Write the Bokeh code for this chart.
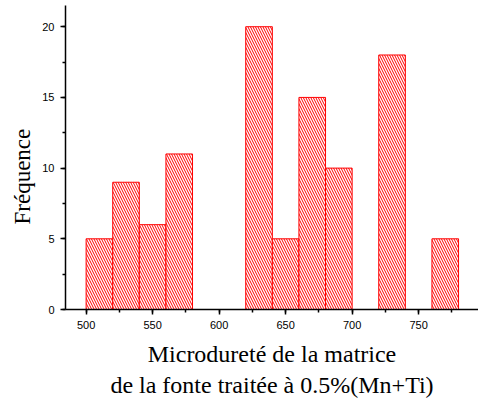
from bokeh.plotting import figure
from bokeh.models import SingleIntervalTicker, Range1d, Title
from bokeh.embed import file_html
from bokeh.resources import INLINE

bin_left = [500, 520, 540, 560, 580, 600, 620, 640, 660, 680, 700, 720, 740, 760]
bin_width = 20
counts = [5, 9, 6, 11, 0, 0, 20, 5, 15, 10, 0, 18, 0, 5]
x_ticks_interval = 50
y_ticks_interval = 5
x_label = "Microdureté de la matrice\nde la fonte traitée à 0.5%(Mn+Ti)"
y_label = "Fréquence"

lefts = [l for l, c in zip(bin_left, counts) if c > 0]
rights = [l + bin_width for l, c in zip(bin_left, counts) if c > 0]
tops = [c for c in counts if c > 0]

x0, x1 = 484.5, 795
y0, y1 = 0, 21.5

p = figure(width=478, height=400, output_backend="svg", toolbar_location=None,
           x_range=Range1d(x0, x1), y_range=Range1d(y0, y1),
           min_border_left=65, min_border_right=0, min_border_top=5, min_border_bottom=90)

p.quad(left=lefts, right=rights, top=tops, bottom=0,
       fill_color="white", line_color="red", line_width=1,
       hatch_pattern="\\", hatch_color="red", hatch_scale=5, hatch_weight=1)

p.outline_line_color = None
p.xgrid.visible = False
p.ygrid.visible = False
p.background_fill_color = "white"
p.border_fill_color = "white"

p.xaxis.ticker = SingleIntervalTicker(interval=x_ticks_interval, num_minor_ticks=2)
p.yaxis.ticker = SingleIntervalTicker(interval=y_ticks_interval, num_minor_ticks=2)

for ax in (p.xaxis[0], p.yaxis[0]):
    ax.axis_line_color = "black"
    ax.axis_line_width = 1.5
    ax.major_tick_in = 0
    ax.major_tick_out = 5
    ax.minor_tick_in = 0
    ax.minor_tick_out = 3
    ax.major_tick_line_width = 1.5
    ax.minor_tick_line_width = 1.5
    ax.major_label_text_font = "Liberation Sans"
    ax.major_label_text_font_size = "11px"
    ax.major_label_text_color = "black"
    ax.axis_label_text_font = "Liberation Serif"
    ax.axis_label_text_font_size = "24px"
    ax.axis_label_text_font_style = "normal"
    ax.axis_label_text_color = "black"

p.xaxis.axis_label = x_label
p.xaxis.axis_label_standoff = 9
p.xaxis.major_label_standoff = 6
p.yaxis.major_label_standoff = 6

p.add_layout(Title(text=y_label, align="left", offset=85,
                   text_font="Liberation Serif", text_font_size="23px",
                   text_font_style="normal", text_color="black", standoff=10), "left")

open("out.html", "w").write(file_html(p, INLINE))
